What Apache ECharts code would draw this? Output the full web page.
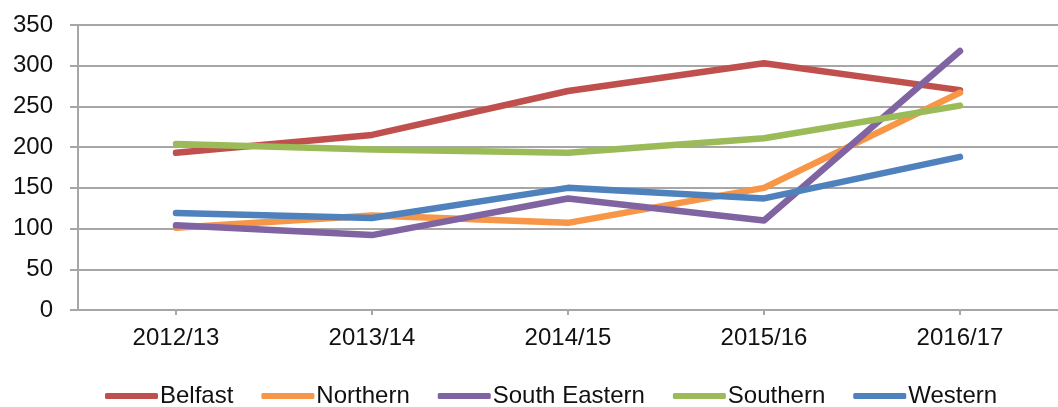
<!DOCTYPE html>
<html>
<head>
<meta charset="utf-8">
<script src="https://cdn.jsdelivr.net/npm/echarts@6/dist/echarts.min.js"></script>
<style>
  html, body { margin: 0; padding: 0; background: #fff; }
  #chart { width: 1058px; height: 407px; }
</style>
</head>
<body>
<div id="chart"></div>
<script>
// Years on the category axis
const years = ['2012/13', '2013/14', '2014/15', '2015/16', '2016/17']

// Values per trust
const belfast = [193, 215, 269, 303, 270]
const northern = [101, 116, 107, 150, 267]
const southEastern = [104, 92, 137, 110, 318]
const southern = [204, 197, 193, 211, 251]
const western = [119, 113, 150, 137, 188]

const seriesDefs = [
  { name: 'Belfast', data: belfast, color: '#C0504D' },
  { name: 'Northern', data: northern, color: '#F79646' },
  { name: 'South Eastern', data: southEastern, color: '#8064A2' },
  { name: 'Southern', data: southern, color: '#9BBB59' },
  { name: 'Western', data: western, color: '#4F81BD' },
]

const font = '"Liberation Sans", Arial, sans-serif'
const gridGrey = '#a6a6a6'

const chart = echarts.init(document.getElementById('chart'))

chart.setOption({
  animation: false,
  backgroundColor: '#fff',
  textStyle: { fontFamily: font },
  grid: { left: 78, top: 25, width: 992, height: 285 },
  xAxis: {
    type: 'category',
    data: years,
    boundaryGap: true,
    axisLine: { show: true, lineStyle: { color: gridGrey, width: 2 } },
    axisTick: { show: true, alignWithLabel: true, length: 5, lineStyle: { color: gridGrey, width: 2 } },
    axisLabel: { color: '#111', fontSize: 24, fontFamily: font, margin: 16 },
    splitLine: { show: false },
  },
  yAxis: {
    type: 'value',
    min: 0,
    max: 350,
    interval: 50,
    axisLine: { show: true, lineStyle: { color: gridGrey, width: 2 } },
    axisTick: { show: true, length: 8, lineStyle: { color: gridGrey, width: 2 } },
    axisLabel: { color: '#111', fontSize: 24, fontFamily: font, margin: 25 },
    splitLine: { show: true, lineStyle: { color: gridGrey, width: 2 } },
  },
  legend: {
    top: 379,
    left: 100,
    icon: 'roundRect',
    itemWidth: 53,
    itemHeight: 6,
    itemGap: 28,
    textStyle: { color: '#111', fontSize: 24, fontFamily: font, padding: [0, 0, 0, -3] },
    data: seriesDefs.map((s) => s.name),
  },
  series: seriesDefs.map((s) => ({
    name: s.name,
    type: 'line',
    data: s.data,
    symbol: 'none',
    color: s.color,
    lineStyle: { color: s.color, width: 6.5, cap: 'round', join: 'round' },
  })),
})
</script>
</body>
</html>
